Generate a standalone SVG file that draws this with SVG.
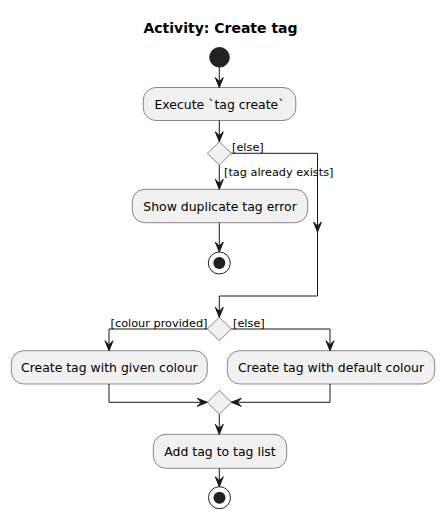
<svg xmlns="http://www.w3.org/2000/svg" width="444" height="520" viewBox="0 0 444 520">
<style>
.act{fill:#F1F1F1;stroke:#181818;stroke-width:0.5}
.dia{fill:#F1F1F1;stroke:#181818;stroke-width:0.5}
.t{font-family:"DejaVu Sans",sans-serif;font-size:12.45px;fill:#000;text-anchor:middle}
.l{font-family:"DejaVu Sans",sans-serif;font-size:11.3px;fill:#000}
.ln{fill:none;stroke:#181818;stroke-width:1}
.ah{fill:#181818;stroke:#181818;stroke-width:1}
</style>
<defs>
<polygon id="ad" points="-4,-10 0,0 4,-10 0,-6"/>
<polygon id="ar" points="-10,-4 0,0 -10,4 -6,0"/>
<polygon id="al" points="10,-4 0,0 10,4 6,0"/>
</defs>
<rect width="444" height="520" fill="#FFFFFF"/>
<text x="220.5" y="33" font-family="DejaVu Sans,sans-serif" font-size="14" font-weight="bold" text-anchor="middle">Activity: Create tag</text>

<g id="start"><circle cx="219.5" cy="57.3" r="9.8" fill="#222222" stroke="#222222" stroke-width="1"/></g>
<g id="execute"><rect class="act" x="143.3" y="87.5" width="152.5" height="33" rx="12.5"/><text class="t" x="219.5" y="108.5">Execute `tag create`</text></g>
<g id="check_exists"><polygon class="dia" points="219.3,141.7 231.3,153.3 219.3,165 207.3,153.3"/></g>
<g id="show_error"><rect class="act" x="132.3" y="189.3" width="175.4" height="33.4" rx="12.5"/><text class="t" x="220" y="210.5">Show duplicate tag error</text></g>
<g id="stop1"><circle cx="219.3" cy="263" r="11" fill="none" stroke="#222222" stroke-width="1"/><circle cx="219.3" cy="263" r="6" fill="#222222"/></g>
<g id="check_colour"><polygon class="dia" points="219.3,317.3 231.3,329 219.3,340.7 207.3,329"/></g>
<g id="given_colour"><rect class="act" x="11.3" y="350.7" width="196" height="33.3" rx="12.5"/><text class="t" x="109.3" y="371.5">Create tag with given colour</text></g>
<g id="default_colour"><rect class="act" x="227.3" y="350.7" width="207.4" height="33.3" rx="12.5"/><text class="t" x="331" y="371.5">Create tag with default colour</text></g>
<g id="merge"><polygon class="dia" points="219.3,390.3 231.3,402.3 219.3,414.3 207.3,402.3"/></g>
<g id="add_tag"><rect class="act" x="153.3" y="434.3" width="133.4" height="34" rx="12.5"/><text class="t" x="220" y="455.5">Add tag to tag list</text></g>
<g id="stop2"><circle cx="219.5" cy="497.7" r="11" fill="none" stroke="#222222" stroke-width="1"/><circle cx="219.5" cy="497.7" r="6" fill="#222222"/></g>

<g id="connectors">
<path class="ln" d="M219.3,67 V87.5"/><use href="#ad" class="ah" x="219.3" y="87.5"/>
<path class="ln" d="M219.3,120.5 V141.7"/><use href="#ad" class="ah" x="219.3" y="141.7"/>
<path class="ln" d="M219.3,165 V189.3"/><use href="#ad" class="ah" x="219.3" y="189.3"/>
<text class="l" x="224" y="175.5">[tag already exists]</text>
<path class="ln" d="M231.3,153.3 H317.5 V296 H219.3 V317.3"/>
<use href="#ad" class="ah" x="317.5" y="232"/>
<use href="#ad" class="ah" x="219.3" y="317.3"/>
<text class="l" x="232" y="150.5">[else]</text>
<path class="ln" d="M219.3,222.7 V252"/><use href="#ad" class="ah" x="219.3" y="252"/>
<path class="ln" d="M207.3,329 H109 V350.7"/><use href="#ad" class="ah" x="109" y="350.7"/>
<text class="l" x="207.5" y="326.5" text-anchor="end">[colour provided]</text>
<path class="ln" d="M231.3,329 H330 V350.7"/><use href="#ad" class="ah" x="330" y="350.7"/>
<text class="l" x="233" y="326.5">[else]</text>
<path class="ln" d="M109,384 V402.3 H207.3"/><use href="#ar" class="ah" x="207.3" y="402.3"/>
<path class="ln" d="M330,384 V402.3 H231.3"/><use href="#al" class="ah" x="231.3" y="402.3"/>
<path class="ln" d="M219.3,414.3 V434.3"/><use href="#ad" class="ah" x="219.3" y="434.3"/>
<path class="ln" d="M219.3,468.3 V486.7"/><use href="#ad" class="ah" x="219.3" y="486.7"/>
</g>
</svg>
